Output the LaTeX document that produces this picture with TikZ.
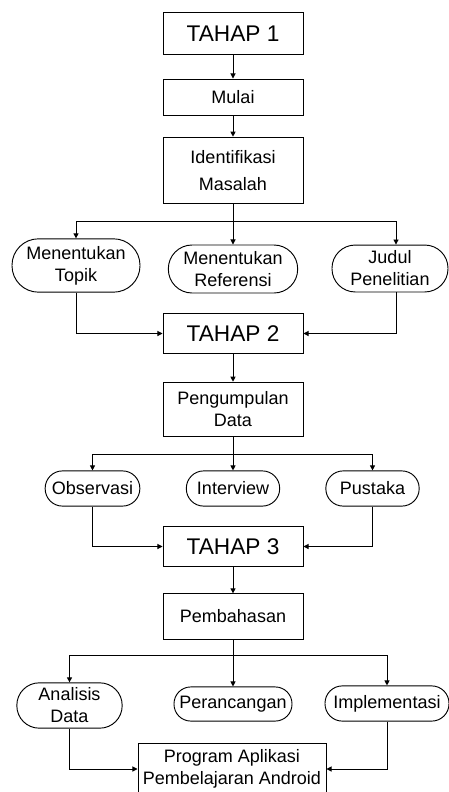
\documentclass[tikz,border=0pt]{standalone}
\usepackage{fontspec}
\setmainfont{Liberation Sans}
\usetikzlibrary{
    arrows.meta,
    positioning
}
\tikzset{
    line cap=butt,
    line join=miter,
    box/.style={
        rectangle,
        draw=black,
        line width=0.7pt,
        fill=white,
        inner sep=0pt,
        minimum width=105pt,
        align=center,
        font=\fontsize{13.5pt}{16.5pt}\selectfont
    },
    stage/.style={
        box,
        minimum height=29.5pt,
        font=\fontsize{17pt}{20pt}\selectfont
    },
    pill/.style={
        rectangle,
        draw=black,
        line width=0.7pt,
        rounded corners=#1,
        minimum height=2*#1+0.4pt,
        inner sep=0pt,
        align=center,
        font=\fontsize{13.5pt}{16.5pt}\selectfont
    },
    pill/.default=13pt,
    flow/.style={
        -{Triangle[length=3.8pt,width=3.8pt]},
        draw=black,
        line width=0.7pt
    },
    plain/.style={
        -,
        draw=black,
        line width=0.7pt
    }
}

\begin{document}
\begin{tikzpicture}[x=0.75pt, y=-0.75pt]

\useasboundingbox (0,0) rectangle (449,792);

% Tahap 1
\node[stage, minimum height=32pt] (tahap1) at (233,33.5) {TAHAP 1};
\node[box, minimum height=27pt] (mulai) at (233,97) {Mulai};
\node[box, minimum height=50pt, font=\fontsize{13.5pt}{20pt}\selectfont] (identifikasi) at (233,170.5) {Identifikasi\\Masalah};
\coordinate (fork1) at (233,221);

\node[pill=19.8pt, minimum width=96pt] (topik) at (76,265.5) {Menentukan\\Topik};
\node[pill=17.8pt, minimum width=97pt] (referensi) at (233,269) {Menentukan\\Referensi};
\node[pill=17.4pt, minimum width=87pt] (judul) at (390,268.5) {Judul\\Penelitian};

\draw[flow] (tahap1) -- (mulai);
\draw[flow] (mulai) -- (identifikasi);
\draw[plain] (identifikasi) -- (fork1);
\draw[flow] (fork1) -- (referensi);
\draw[flow] (fork1) -| (topik);
\draw[flow] (fork1) -| ([xshift=4.5pt]judul.north);

% Tahap 2
\node[stage] (tahap2) at (233,333.5) {TAHAP 2};
\node[box, minimum height=41pt] (pengumpulan) at (233,409.5) {Pengumpulan\\Data};
\coordinate (fork2) at (233,454);

\node[pill, minimum width=71pt] (observasi) at (92.5,488.5) {Observasi};
\node[pill, minimum width=70pt] (interview) at (233,488.5) {Interview};
\node[pill, minimum width=70pt] (pustaka) at (372.5,488.5) {Pustaka};

\draw[flow] (topik) |- (tahap2);
\draw[flow] ([xshift=4.5pt]judul.south) |- (tahap2);
\draw[flow] (tahap2) -- (pengumpulan);
\draw[plain] (pengumpulan) -- (fork2);
\draw[flow] (fork2) -- (interview);
\draw[flow] (fork2) -| (observasi);
\draw[flow] (fork2) -| (pustaka);

% Tahap 3
\node[stage] (tahap3) at (233,546.5) {TAHAP 3};
\node[box, minimum height=34pt] (pembahasan) at (233,616.5) {Pembahasan};
\coordinate (fork3) at (233,655);

\node[pill=16.8pt, minimum width=79pt] (analisis) at (69.5,705.5) {Analisis\\Data};
\node[pill=12.6pt, minimum width=88.5pt] (perancangan) at (233,704) {Perancangan};
\node[pill, minimum width=93pt] (implementasi) at (387,703.5) {Implementasi};
\node[box, minimum width=141pt, minimum height=39pt] (program) at (232,769) {Program Aplikasi\\Pembelajaran Android};

\draw[flow] (observasi) |- (tahap3);
\draw[flow] (pustaka) |- (tahap3);
\draw[flow] (tahap3) -- (pembahasan);
\draw[plain] (pembahasan) -- (fork3);
\draw[flow] (fork3) -- (perancangan);
\draw[flow] (fork3) -| (analisis);
\draw[flow] (fork3) -| (implementasi);
\draw[flow] (analisis) |- (program);
\draw[flow] (implementasi) |- (program);

\end{tikzpicture}
\end{document}
